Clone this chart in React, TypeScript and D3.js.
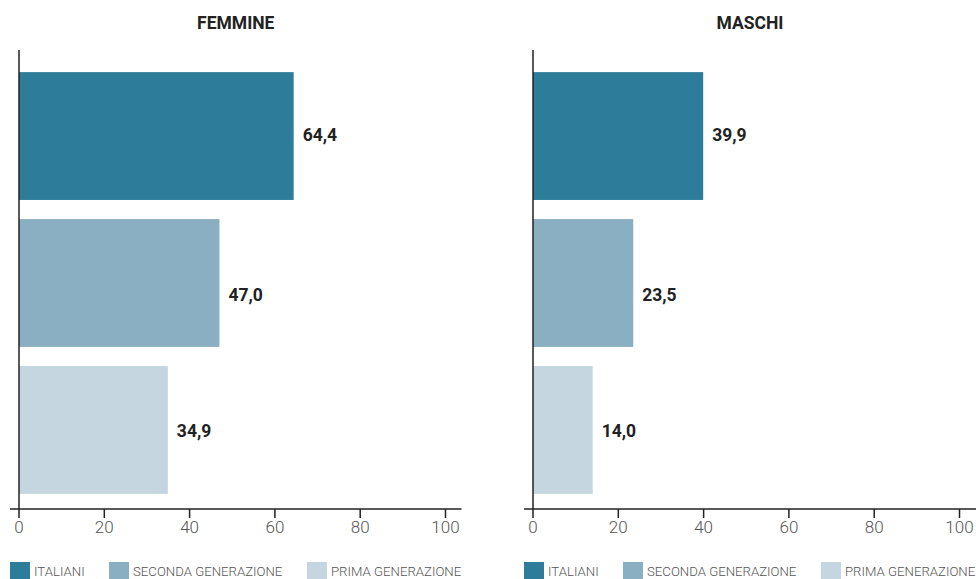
import React from "react";
import * as d3 from "d3";

const panels = ["FEMMINE", "MASCHI"];
const categories = ["ITALIANI", "SECONDA GENERAZIONE", "PRIMA GENERAZIONE"];
const femmineValues = [64.4, 47.0, 34.9];
const maschiValues = [39.9, 23.5, 14.0];
const tickValues = [0, 20, 40, 60, 80, 100];
const colors = ["#2d7d9a", "#8aafc3", "#c5d6e0"];

const W = 976;
const H = 579;
const panelOffsets = [0, 514];
const legendOffsets = [0, 99, 297];
const labelShift = [-1, 12, 1];

export default function App() {
  const series = [femmineValues, maschiValues];
  const y = d3.scaleBand<string>().domain(categories).range([53, 513]).paddingInner(0.13).paddingOuter(0.13);
  const fmt = (v: number) => d3.format(".1f")(v).replace(".", ",");
  const axisY = 509;

  return (
    <svg width={W} height={H} style={{ position: "absolute", left: 0, top: 0, fontFamily: "Roboto, sans-serif" }}>
      {panels.map((title, pi) => {
        const off = panelOffsets[pi];
        const x = d3.scaleLinear().domain([0, 100]).range([19 + off, 445.5 + off]);
        const lineStart = x(0) - 9;
        const lineEnd = pi === 0 ? x(100) + 16 : W;
        const values = series[pi];
        return (
          <g key={title}>
            <text x={(lineStart + lineEnd) / 2} y={29} textAnchor="middle" fontSize={17.5} fontWeight={700} fill="#222">
              {title}
            </text>
            {categories.map((c, i) => (
              <g key={c}>
                <rect x={x(0)} y={y(c)} width={x(values[i]) - x(0)} height={y.bandwidth()} fill={colors[i]} />
                <text x={x(values[i]) + 9} y={(y(c) as number) + y.bandwidth() / 2 + labelShift[i]} dy="0.35em" fontSize={17.5} fontWeight={700} fill="#222">
                  {fmt(values[i])}
                </text>
              </g>
            ))}
            <line x1={x(0)} x2={x(0)} y1={50} y2={axisY} stroke="#222" strokeWidth={1.5} />
            <line x1={lineStart} x2={lineEnd} y1={axisY} y2={axisY} stroke="#222" strokeWidth={1.5} />
            {tickValues.map((t) => (
              <g key={t}>
                <line x1={x(t)} x2={x(t)} y1={axisY} y2={axisY + 9} stroke="#222" strokeWidth={1.5} />
                <text x={x(t)} y={axisY + 24} textAnchor="middle" fontSize={17} fontWeight={300} fill="#555">
                  {t}
                </text>
              </g>
            ))}
            {categories.map((c, i) => (
              <g key={"lg" + c} transform={`translate(${lineStart + legendOffsets[i]},562)`}>
                <rect x={0} y={0} width={20} height={20} fill={colors[i]} />
                <text x={24} y={14} fontSize={13.2} fontWeight={300} fill="#555">
                  {c}
                </text>
              </g>
            ))}
          </g>
        );
      })}
    </svg>
  );
}
